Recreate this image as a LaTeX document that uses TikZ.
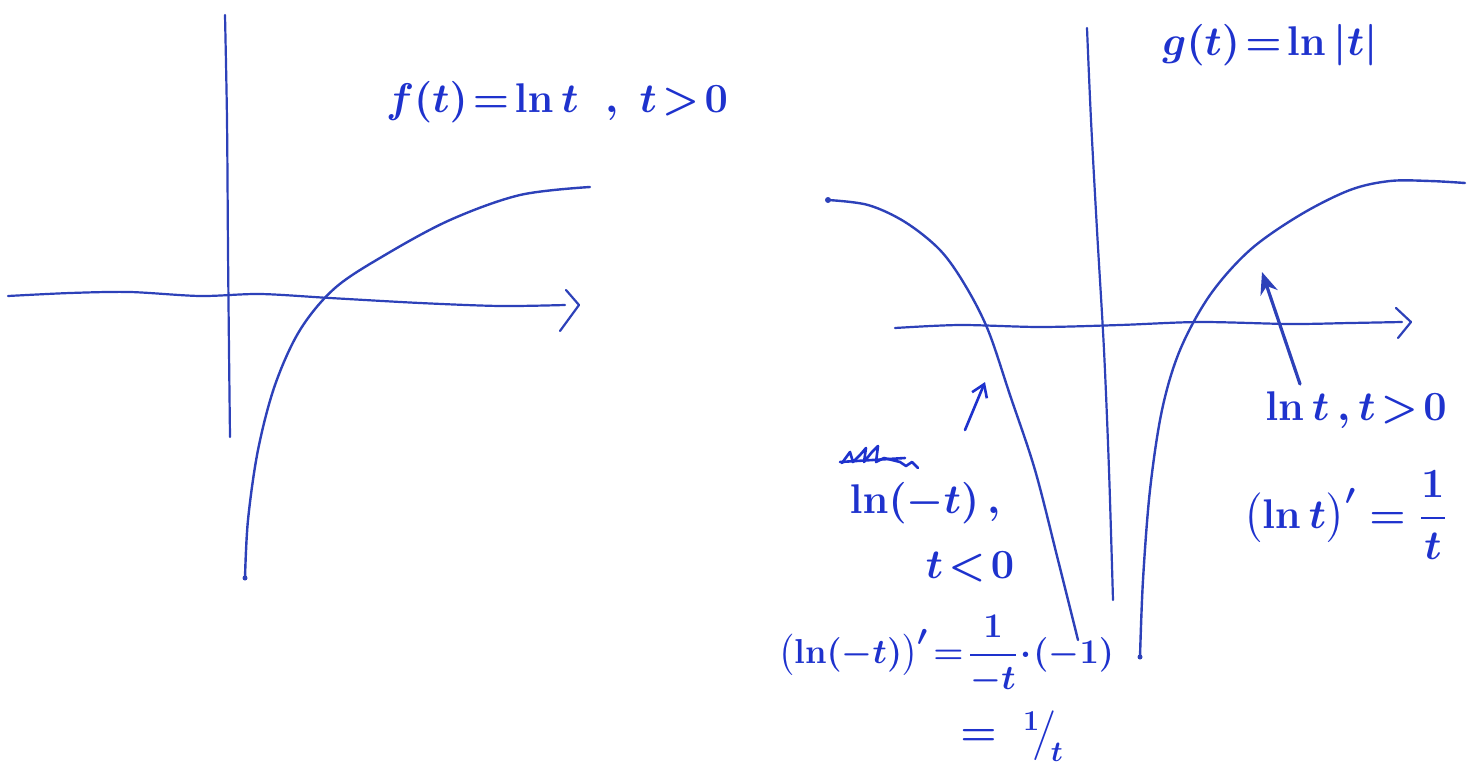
\documentclass[tikz,border=0pt]{standalone}
\usepackage{amsmath}
\usetikzlibrary{arrows.meta}
\definecolor{ink}{RGB}{30,50,205}
\definecolor{pen}{RGB}{45,65,185}
\tikzset{
  axis/.style={pen, line width=1.1pt, line cap=round, line join=round},
  curve/.style={pen, line width=1.2pt, line cap=round, line join=round},
  lbl/.style={ink, inner sep=0pt, font=\fontsize{22}{26}\selectfont\boldmath},
  smlbl/.style={lbl, font=\fontsize{19}{23}\selectfont\boldmath},
  midlbl/.style={lbl, font=\fontsize{20}{24}\selectfont\boldmath},
}
\begin{document}
\begin{tikzpicture}[x=0.5pt,y=-0.5pt]
\useasboundingbox (0,0) rectangle (1469,772);
% ---------- left graph ----------
\draw[axis] plot[smooth, tension=0.5] coordinates {(225,15) (227,120) (228,250) (229,350) (230,437)};
\draw[axis] plot[smooth, tension=0.5] coordinates {(8,296) (70,293) (130,292) (200,296) (260,294) (330,298) (420,303) (500,306) (565,305)};
\coordinate (la1) at (566,290); \coordinate (la2) at (579,305); \coordinate (la3) at (560,331);
\draw[axis] (la1) -- (la2) -- (la3);
\draw[curve] plot[smooth, tension=0.55] coordinates {(245,578) (248,520) (258,450) (275,385) (300,330) (335,288) (385,255) (450,220) (520,195) (590,187)};
\fill[pen] (245,578) circle (2.5);
\node[lbl] (ft) at (557,102) {$f(t)\!=\!\ln t\;\;,\;t\!>\!0$};
% ---------- right graph ----------
\draw[axis] plot[smooth, tension=0.5] coordinates {(1087,28) (1091,120) (1097,230) (1104,350) (1109,470) (1113,600)};
\draw[axis] plot[smooth, tension=0.5] coordinates {(895,328) (960,325) (1040,327) (1120,325) (1200,322) (1290,324) (1350,323) (1402,322)};
\coordinate (ra1) at (1396,308); \coordinate (ra2) at (1411,322); \coordinate (ra3) at (1398,338);
\draw[axis] (ra1) -- (ra2) -- (ra3);
\draw[curve] plot[smooth, tension=0.55] coordinates {(828,200) (868,205) (905,222) (940,250) (965,285) (988,330) (1010,395) (1035,470) (1058,560) (1078,640)};
\fill[pen] (828,200) circle (3);
\draw[curve] plot[smooth, tension=0.55] coordinates {(1140,657) (1143,580) (1150,490) (1162,410) (1180,350) (1210,295) (1250,250) (1300,215) (1350,190) (1390,181) (1430,181) (1465,183)};
\fill[pen] (1140,657) circle (2.5);
\node[lbl] (gt) at (1270,45) {$g(t)\!=\!\ln|t|$};
% arrow to right branch
\coordinate (bigA) at (1300,384); \coordinate (bigB) at (1262,272);
\draw[curve, line width=1.6pt, -{Stealth[length=11pt,width=9pt]}] (bigA) -- (bigB);
% small arrow to left branch
\coordinate (smA) at (965,430); \coordinate (smB) at (985,382);
\draw[ink, line width=1.3pt, line cap=round, -{Straight Barb[length=6pt,width=8pt]}] (smA) -- (smB);
% crossed-out scribble
\draw[ink, line width=1.3pt, line join=round, line cap=round]
  (842,463) -- (850,452) -- (853,462) -- (860,455) -- (866,448) -- (864,462) -- (872,452) -- (878,446) -- (876,462) -- (884,458) -- (892,460) -- (900,462) -- (906,466) -- (912,462) -- (918,468);
\draw[ink, line width=1.3pt, line cap=round] (840,462) -- (905,458);
% labels
\node[lbl] (lnm) at (925,503) {$\ln(-t)\,,$};
\node[lbl] (tneg) at (970,567) {$t\!<\!0$};
\node[smlbl, anchor=west] (dlnm) at (778,655) {$\bigl(\ln(-t)\bigr)'\!=\!\dfrac{1}{-t}\!\cdot\!(-1)$};
\node[midlbl, anchor=west] (eq1t) at (960,736) {$=\;{}^{1}\!\big/_{\!t}$};
\node[lbl] (lnt) at (1356,410) {$\ln t\,,t\!>\!0$};
\node[lbl] (dlnt) at (1345,515) {$\bigl(\ln t\bigr)'=\dfrac{1}{t}$};
\end{tikzpicture}
\end{document}
